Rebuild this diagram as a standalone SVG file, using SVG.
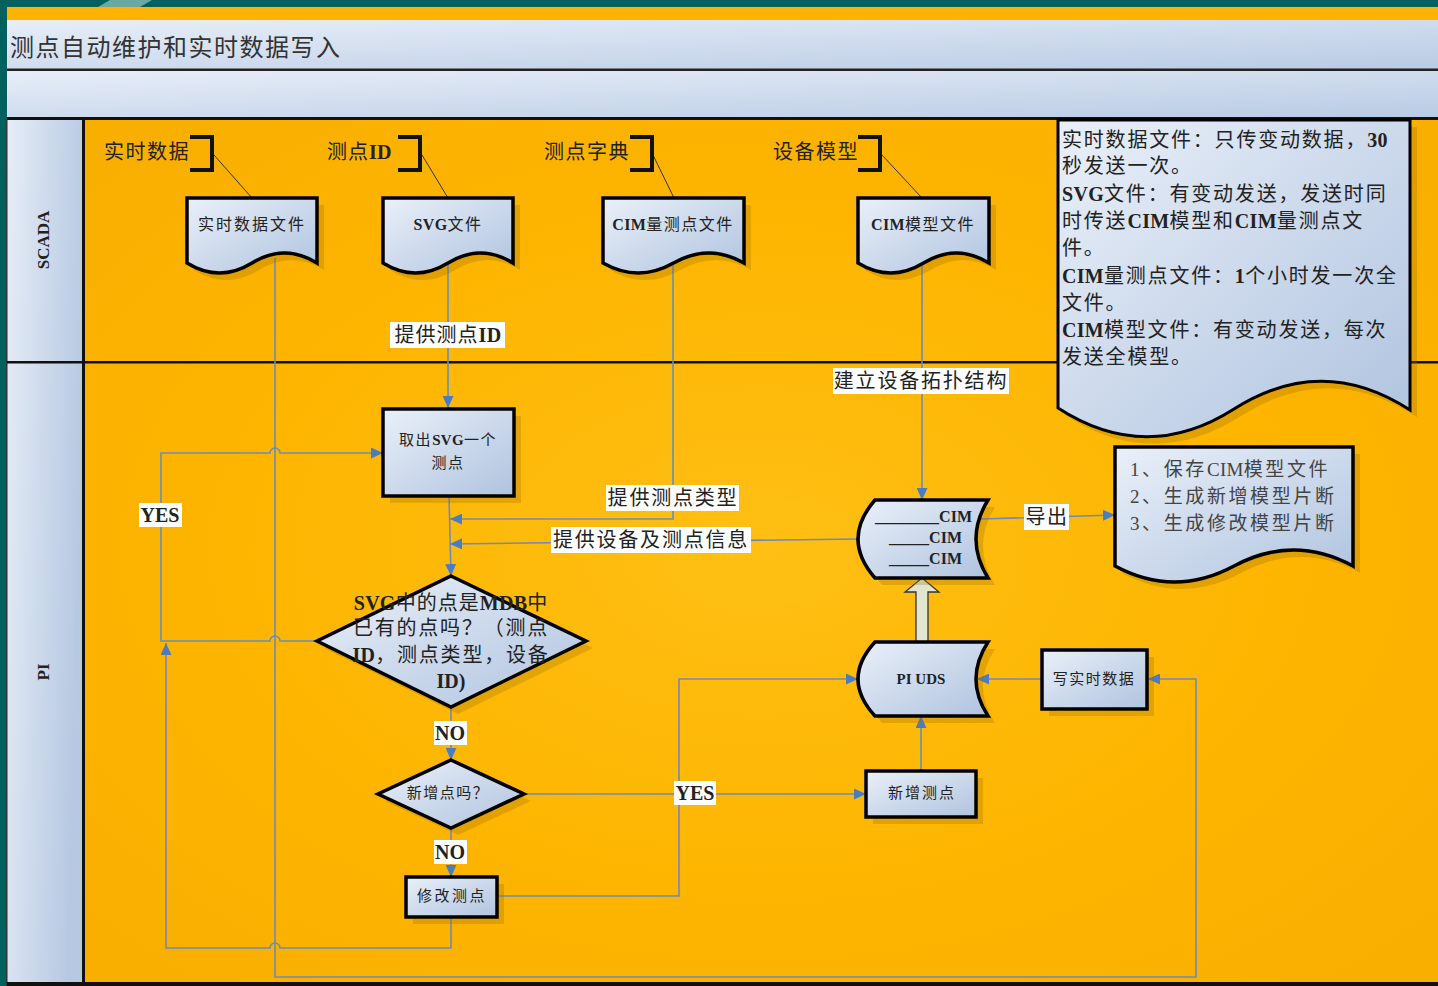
<svg xmlns="http://www.w3.org/2000/svg" width="1438" height="986" viewBox="0 0 1438 986">
<defs>
  <linearGradient id="blue" x1="0" y1="0" x2="1" y2="1">
    <stop offset="0" stop-color="#eaf0f9"/>
    <stop offset="1" stop-color="#afc3df"/>
  </linearGradient>
  <linearGradient id="band" x1="0" y1="0" x2="1" y2="1">
    <stop offset="0" stop-color="#e8eef8"/>
    <stop offset="1" stop-color="#b9cbe4"/>
  </linearGradient>
  <linearGradient id="bandv" x1="0" y1="0" x2="1" y2="0.3">
    <stop offset="0" stop-color="#e6edf7"/>
    <stop offset="1" stop-color="#b7c9e2"/>
  </linearGradient>
  <radialGradient id="org" cx="0.5" cy="0.5" r="0.65">
    <stop offset="0" stop-color="#ffbf14"/>
    <stop offset="0.6" stop-color="#fdb500"/>
    <stop offset="1" stop-color="#f9af00"/>
  </radialGradient>
  <marker id="ah" viewBox="0 0 12 11" refX="12" refY="5.5" markerWidth="12" markerHeight="11" markerUnits="userSpaceOnUse" orient="auto">
    <path d="M0,0 L12,5.5 L0,11 z" fill="#4a7cc4"/>
  </marker>
</defs>
<style>
  .ln{fill:none;stroke:#6d8cb6;stroke-width:1.6}
  .an{fill:none;stroke:#333;stroke-width:1}
  .br{fill:none;stroke:#111;stroke-width:4}
  .node{fill:url(#blue);stroke:#000;stroke-width:3.5}
  .sh{fill:#9a6a00;opacity:0.28}
  .t{font-family:"Liberation Serif","Noto Sans CJK SC",serif;fill:#222}
  .s{font-family:"Noto Sans CJK SC",sans-serif;fill:#333}
  .b{font-weight:bold}
  tspan.b, tspan.l{letter-spacing:0.3px}
  .lbg{fill:#fff}
  .c{text-anchor:middle;dominant-baseline:central}
</style>

<g id="background">
  <rect x="0" y="0" width="1438" height="986" fill="#00615e"/>
  <polygon points="110,0 152,0 140,7 98,7" fill="#6aa9a3"/>
  <rect x="7" y="7" width="1431" height="13" fill="#fdb300"/>
  <rect x="7" y="20" width="1431" height="49" fill="url(#band)"/>
  <rect x="7" y="68.5" width="1431" height="2.5" fill="#222"/>
  <rect x="7" y="71" width="1431" height="46" fill="url(#band)"/>
  <rect x="7" y="117" width="1431" height="3.5" fill="#111"/>
  <rect x="7" y="120" width="76" height="863" fill="url(#bandv)"/>
  <rect x="85" y="120" width="1353" height="863" fill="url(#org)"/>
  <rect x="82" y="120" width="3" height="863" fill="#111"/>
  <rect x="6" y="120" width="1.5" height="866" fill="#333"/>
  <rect x="7" y="361" width="1431" height="2.5" fill="#111"/>
  <rect x="7" y="982" width="1431" height="4" fill="#111"/>
  <text class="s" x="10" y="45" font-size="24" letter-spacing="1.5" dominant-baseline="central">测点自动维护和实时数据写入</text>
  <text class="t b c" font-size="17" transform="translate(43,240) rotate(-90)">SCADA</text>
  <text class="t b c" font-size="17" transform="translate(43,672) rotate(-90)">PI</text>
</g>

<g id="connectors">
  <line class="an" x1="214" y1="155" x2="252" y2="198"/>
  <line class="an" x1="422" y1="155" x2="448" y2="198"/>
  <line class="an" x1="653" y1="155" x2="674" y2="198"/>
  <line class="an" x1="882" y1="155" x2="922" y2="198"/>

  <path class="ln" d="M448,264 V408" marker-end="url(#ah)"/>
  <path class="ln" d="M673,262 V519 H450" marker-end="url(#ah)"/>
  <path class="ln" d="M858,539 L450,544" marker-end="url(#ah)"/>
  <path class="ln" d="M449,496 L451,576" marker-end="url(#ah)"/>
  <path class="ln" d="M922,264 V500" marker-end="url(#ah)"/>
  <path class="ln" d="M317,641 H280 A5,5 0 0 0 270,641 H161 V453 H270 A5,5 0 0 1 280,453 H383" marker-end="url(#ah)"/>
  <path class="ln" d="M451,708 V760" marker-end="url(#ah)"/>
  <path class="ln" d="M451,828 V877" marker-end="url(#ah)"/>
  <path class="ln" d="M524,794 H866" marker-end="url(#ah)"/>
  <path class="ln" d="M921,771 V716" marker-end="url(#ah)"/>
  <path class="ln" d="M497,896 H679 V679 H858" marker-end="url(#ah)"/>
  <path class="ln" d="M1042,679 H977" marker-end="url(#ah)"/>
  <path class="ln" d="M451,917 V948 H280 A5,5 0 0 0 270,948 H166 V643" marker-end="url(#ah)"/>
  <path class="ln" d="M275,258 V977 H1196 V679 H1148" marker-end="url(#ah)"/>
  <path class="ln" d="M980,519 L1115,515" marker-end="url(#ah)"/>
  <polygon points="916,642 916,592 905,592 922,578 939,592 928,592 928,642" fill="#e2e5cf" stroke="#333" stroke-width="1.3"/>

  <rect class="lbg" x="390" y="322" width="115" height="26"/>
  <text class="t c" x="448" y="335" font-size="20" letter-spacing="1">提供测点<tspan class="b">ID</tspan></text>
  <rect class="lbg" x="833" y="368" width="176" height="26"/>
  <text class="t c" x="921" y="381" font-size="20" letter-spacing="1.8">建立设备拓扑结构</text>
  <rect class="lbg" x="606" y="485" width="133" height="26"/>
  <text class="t c" x="673" y="498" font-size="20" letter-spacing="1.8">提供测点类型</text>
  <rect class="lbg" x="551" y="527" width="200" height="26"/>
  <text class="t c" x="651" y="540" font-size="20" letter-spacing="1.8">提供设备及测点信息</text>
  <rect class="lbg" x="1024" y="504" width="45" height="26"/>
  <text class="t c" x="1047" y="517" font-size="20" letter-spacing="1.5">导出</text>
  <rect class="lbg" x="139" y="503" width="43" height="24"/>
  <text class="t b c" x="160" y="515" font-size="20">YES</text>
  <rect class="lbg" x="434" y="721" width="33" height="24"/>
  <text class="t b c" x="450" y="733" font-size="20">NO</text>
  <rect class="lbg" x="434" y="840" width="33" height="24"/>
  <text class="t b c" x="450" y="852" font-size="20">NO</text>
  <rect class="lbg" x="674" y="781" width="42" height="24"/>
  <text class="t b c" x="695" y="793" font-size="20">YES</text>
</g>

<g id="a-rtdata">
  <text class="t" x="104" y="152" font-size="20" letter-spacing="1.5" dominant-baseline="central">实时数据</text>
  <path class="br" d="M190,137 H212 V170 H190"/>
</g>
<g id="a-pointid">
  <text class="t" x="327" y="152" font-size="20" letter-spacing="1" dominant-baseline="central">测点<tspan class="b">ID</tspan></text>
  <path class="br" d="M398,137 H420 V170 H398"/>
</g>
<g id="a-dict">
  <text class="t" x="544" y="152" font-size="20" letter-spacing="1.5" dominant-baseline="central">测点字典</text>
  <path class="br" d="M630,137 H652 V170 H630"/>
</g>
<g id="a-model">
  <text class="t" x="773" y="152" font-size="20" letter-spacing="1.5" dominant-baseline="central">设备模型</text>
  <path class="br" d="M858,137 H880 V170 H858"/>
</g>

<g id="n-rtfile">
  <path class="sh" transform="translate(7,7)" d="M187,198 H317 V263 Q284.5,243 252,263 Q219.5,283 187,263 Z"/>
  <path class="node" d="M187,198 H317 V263 Q284.5,243 252,263 Q219.5,283 187,263 Z"/>
  <text class="t c" x="252" y="224" font-size="16" letter-spacing="2" fill="#333">实时数据文件</text>
</g>
<g id="n-svgfile">
  <path class="sh" transform="translate(7,7)" d="M383,198 H513 V263 Q480.5,243 448,263 Q415.5,283 383,263 Z"/>
  <path class="node" d="M383,198 H513 V263 Q480.5,243 448,263 Q415.5,283 383,263 Z"/>
  <text class="t c" x="448" y="224" font-size="16" letter-spacing="1.5"><tspan class="b">SVG</tspan>文件</text>
</g>
<g id="n-cimmeas">
  <path class="sh" transform="translate(7,7)" d="M603,198 H744 V263 Q708.75,243 673.5,263 Q638.25,283 603,263 Z"/>
  <path class="node" d="M603,198 H744 V263 Q708.75,243 673.5,263 Q638.25,283 603,263 Z"/>
  <text class="t c" x="673" y="224" font-size="16" letter-spacing="1.5"><tspan class="b">CIM</tspan>量测点文件</text>
</g>
<g id="n-cimmodel">
  <path class="sh" transform="translate(7,7)" d="M858,198 H989 V263 Q956.25,243 923.5,263 Q890.75,283 858,263 Z"/>
  <path class="node" d="M858,198 H989 V263 Q956.25,243 923.5,263 Q890.75,283 858,263 Z"/>
  <text class="t c" x="923" y="224" font-size="16" letter-spacing="1.5"><tspan class="b">CIM</tspan>模型文件</text>
</g>

<g id="n-note">
  <path class="sh" transform="translate(7,7)" d="M1058,120 H1410 V410 Q1322,353 1234,409 Q1146,465 1058,408 Z"/>
  <path d="M1058,120 H1410 V410 Q1322,353 1234,409 Q1146,465 1058,408 Z" fill="url(#blue)" stroke="#000" stroke-width="3"/>
  <g class="t" font-size="20" letter-spacing="1.8">
    <text x="1062" y="140" dominant-baseline="central">实时数据文件：只传变动数据，<tspan class="b">30</tspan></text>
    <text x="1062" y="166" dominant-baseline="central">秒发送一次。</text>
    <text x="1062" y="194" dominant-baseline="central"><tspan class="b">SVG</tspan>文件：有变动发送，发送时同</text>
    <text x="1062" y="221" dominant-baseline="central">时传送<tspan class="b">CIM</tspan>模型和<tspan class="b">CIM</tspan>量测点文</text>
    <text x="1062" y="248" dominant-baseline="central">件。</text>
    <text x="1062" y="276" dominant-baseline="central"><tspan class="b">CIM</tspan>量测点文件：<tspan class="b">1</tspan>个小时发一次全</text>
    <text x="1062" y="303" dominant-baseline="central">文件。</text>
    <text x="1062" y="330" dominant-baseline="central"><tspan class="b">CIM</tspan>模型文件：有变动发送，每次</text>
    <text x="1062" y="357" dominant-baseline="central">发送全模型。</text>
  </g>
</g>

<g id="n-take">
  <rect class="sh" x="390" y="416" width="131" height="87"/>
  <rect class="node" x="383" y="409" width="131" height="87"/>
  <text class="t c" x="448" y="440" font-size="15" letter-spacing="1.5">取出<tspan class="b">SVG</tspan>一个</text>
  <text class="t c" x="448" y="463" font-size="15" letter-spacing="1.5">测点</text>
</g>

<g id="n-d1">
  <polygon class="sh" transform="translate(7,7)" points="451,576 586,641 451,707 317,641"/>
  <polygon class="node" points="451,576 586,641 451,707 317,641"/>
  <text class="t c" x="451" y="603" font-size="20" letter-spacing="1"><tspan class="b">SVG</tspan>中的点是<tspan class="b">MDB</tspan>中</text>
  <text class="t c" x="451" y="628" font-size="20" letter-spacing="1.8">已有的点吗？（测点</text>
  <text class="t c" x="451" y="655" font-size="20" letter-spacing="1.8"><tspan class="b">ID</tspan>，测点类型，设备</text>
  <text class="t b c" x="451" y="681" font-size="20">ID)</text>
</g>

<g id="n-d2">
  <polygon class="sh" transform="translate(7,7)" points="451,760 524,794 451,828 378,794"/>
  <polygon class="node" points="451,760 524,794 451,828 378,794"/>
  <text class="t c" x="448" y="793" font-size="15" letter-spacing="1.5">新增点吗？</text>
</g>

<g id="n-modify">
  <rect class="sh" x="413" y="884" width="91" height="40"/>
  <rect class="node" x="406" y="877" width="91" height="40"/>
  <text class="t c" x="452" y="896" font-size="15" letter-spacing="2.5" fill="#444">修改测点</text>
</g>

<g id="n-add">
  <rect class="sh" x="873" y="778" width="110" height="46"/>
  <rect class="node" x="866" y="771" width="110" height="46"/>
  <text class="t c" x="922" y="793" font-size="15" letter-spacing="2">新增测点</text>
</g>

<g id="n-uds">
  <path class="sh" transform="translate(7,7)" d="M875,642 H988 Q964,679 988,716 H875 Q841,679 875,642 Z"/>
  <path class="node" d="M875,642 H988 Q964,679 988,716 H875 Q841,679 875,642 Z"/>
  <text class="t b c" x="921" y="679" font-size="15">PI UDS</text>
</g>

<g id="n-cimdb">
  <path class="sh" transform="translate(7,7)" d="M875,500 H988 Q964,539 988,578 H875 Q841,539 875,500 Z"/>
  <path class="node" d="M875,500 H988 Q964,539 988,578 H875 Q841,539 875,500 Z"/>
  <g class="t b" font-size="16" text-anchor="end">
    <text x="972" y="516" dominant-baseline="central">________CIM</text>
    <text x="962" y="537" dominant-baseline="central">_____CIM</text>
    <text x="962" y="558" dominant-baseline="central">_____CIM</text>
  </g>
</g>

<g id="n-write">
  <rect class="sh" x="1049" y="657" width="105" height="59"/>
  <rect class="node" x="1042" y="650" width="105" height="59"/>
  <text class="t c" x="1094" y="679" font-size="15" letter-spacing="1.5" fill="#444">写实时数据</text>
</g>

<g id="n-export">
  <path class="sh" transform="translate(7,7)" d="M1115,447 H1353 V566 Q1293.5,534 1234,566 Q1174.5,598 1115,566 Z"/>
  <path class="node" d="M1115,447 H1353 V566 Q1293.5,534 1234,566 Q1174.5,598 1115,566 Z"/>
  <g class="t" font-size="19" letter-spacing="2.6">
    <text x="1130" y="469" dominant-baseline="central" fill="#444">1、保存<tspan class="l">CIM</tspan>模型文件</text>
    <text x="1130" y="496" dominant-baseline="central" fill="#444">2、生成新增模型片断</text>
    <text x="1130" y="523" dominant-baseline="central" fill="#444">3、生成修改模型片断</text>
  </g>
</g>
</svg>
